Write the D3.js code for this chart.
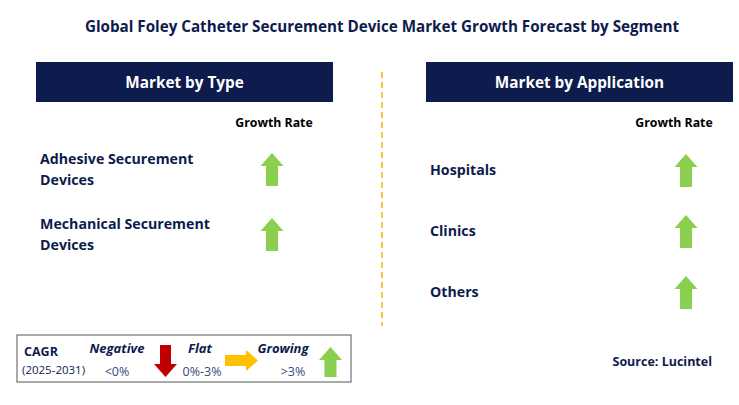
<!DOCTYPE html>
<html><head><meta charset="utf-8">
<script src="https://cdn.jsdelivr.net/npm/d3@7"></script>
<style>body{margin:0;background:#fff}text{font-family:"Open Sans",Arial,sans-serif}</style>
</head><body><svg id="c" width="739" height="405"></svg>
<script>
const title = "Global Foley Catheter Securement Device Market Growth Forecast by Segment";
const typeCategories = [["Adhesive Securement","Devices"],["Mechanical Securement","Devices"]];
const typeGrowth = ["up","up"];
const appCategories = [["Hospitals"],["Clinics"],["Others"]];
const appGrowth = ["up","up","up"];
const legendLabels = ["Negative","Flat","Growing"];
const legendRanges = ["<0%","0%-3%",">3%"];

const svg = d3.select("#c");
const navy = "#0d1b4d", green = "#8bcf4f", red = "#c00000", yellow = "#ffc000";
svg.append("text").attr("x",382).attr("y",32).attr("text-anchor","middle")
  .attr("font-weight","bold").attr("font-size",15.2).attr("fill",navy).text(title);

function upArrow(g,cx,top,h){
  const hw=11.5, sw=6, hh=13;
  g.append("path").attr("fill",green).attr("d",
   `M${cx},${top} L${cx+hw},${top+hh} L${cx+sw},${top+hh} L${cx+sw},${top+h} L${cx-sw},${top+h} L${cx-sw},${top+hh} L${cx-hw},${top+hh}Z`);
}
function panel(x0,x1,header,cats,growth,yRange,arrowX,grX){
  svg.append("rect").attr("x",x0).attr("y",62).attr("width",x1-x0).attr("height",40).attr("fill",navy);
  svg.append("text").attr("x",(x0+x1)/2).attr("y",88).attr("text-anchor","middle").attr("fill","#fff")
    .attr("font-weight","bold").attr("font-size",15.3).text(header);
  svg.append("text").attr("x",grX).attr("y",127).attr("text-anchor","middle").attr("fill","#000")
    .attr("font-weight","bold").attr("font-size",12.3).text("Growth Rate");
  const y = d3.scalePoint().domain(cats.map((d,i)=>i)).range(yRange);
  cats.forEach((c,i)=>{
    const cy=y(i);
    const t=svg.append("text").attr("x",x0+4).attr("fill",navy).attr("font-weight","bold").attr("font-size",14.2);
    c.forEach((line,j)=>t.append("tspan").attr("x",x0+4).attr("y",cy+5+(j-(c.length-1)/2)*21).text(line));
    if(growth[i]==="up") upArrow(svg,arrowX,cy-16,33);
  });
}
panel(36,333,"Market by Type",typeCategories,typeGrowth,[169,234],272,274);
panel(426,733,"Market by Application",appCategories,appGrowth,[170,292],686,674);
svg.append("line").attr("x1",382).attr("x2",382).attr("y1",72).attr("y2",326)
  .attr("stroke","#f5b400").attr("stroke-width",1.5).attr("stroke-dasharray","6,4");

// legend
svg.append("rect").attr("x",17).attr("y",335).attr("width",334).attr("height",47).attr("fill","#fff").attr("stroke","#555").attr("stroke-width",1);
svg.append("text").attr("x",24).attr("y",356).attr("fill",navy).attr("font-weight","bold").attr("font-size",12.5).text("CAGR");
svg.append("text").attr("x",22).attr("y",374).attr("fill",navy).attr("font-size",11.5).text("(2025-2031)");
const lx=[117,200,283], rx=[117,202,293];
legendLabels.forEach((l,i)=>{
  svg.append("text").attr("x",lx[i]).attr("y",353).attr("text-anchor","middle").attr("fill",navy)
    .attr("font-weight","bold").attr("font-style","italic").attr("font-size",13).text(l);
  svg.append("text").attr("x",rx[i]).attr("y",376).attr("text-anchor","middle").attr("fill","#3a4a7a")
    .attr("font-size",12.5).text(legendRanges[i]);
});
svg.append("path").attr("fill",red).attr("d","M160,345 L171,345 L171,364 L177,364 L165.5,377 L154,364 L160,364Z");
svg.append("path").attr("fill",yellow).attr("d","M225,355 L246,355 L246,350 L258,360.5 L246,371 L246,366 L225,366Z");
upArrow(svg,330.5,347,30);
svg.append("text").attr("x",712).attr("y",366).attr("text-anchor","end").attr("fill",navy)
  .attr("font-weight","bold").attr("font-size",12.5).text("Source: Lucintel");
</script></body></html>
